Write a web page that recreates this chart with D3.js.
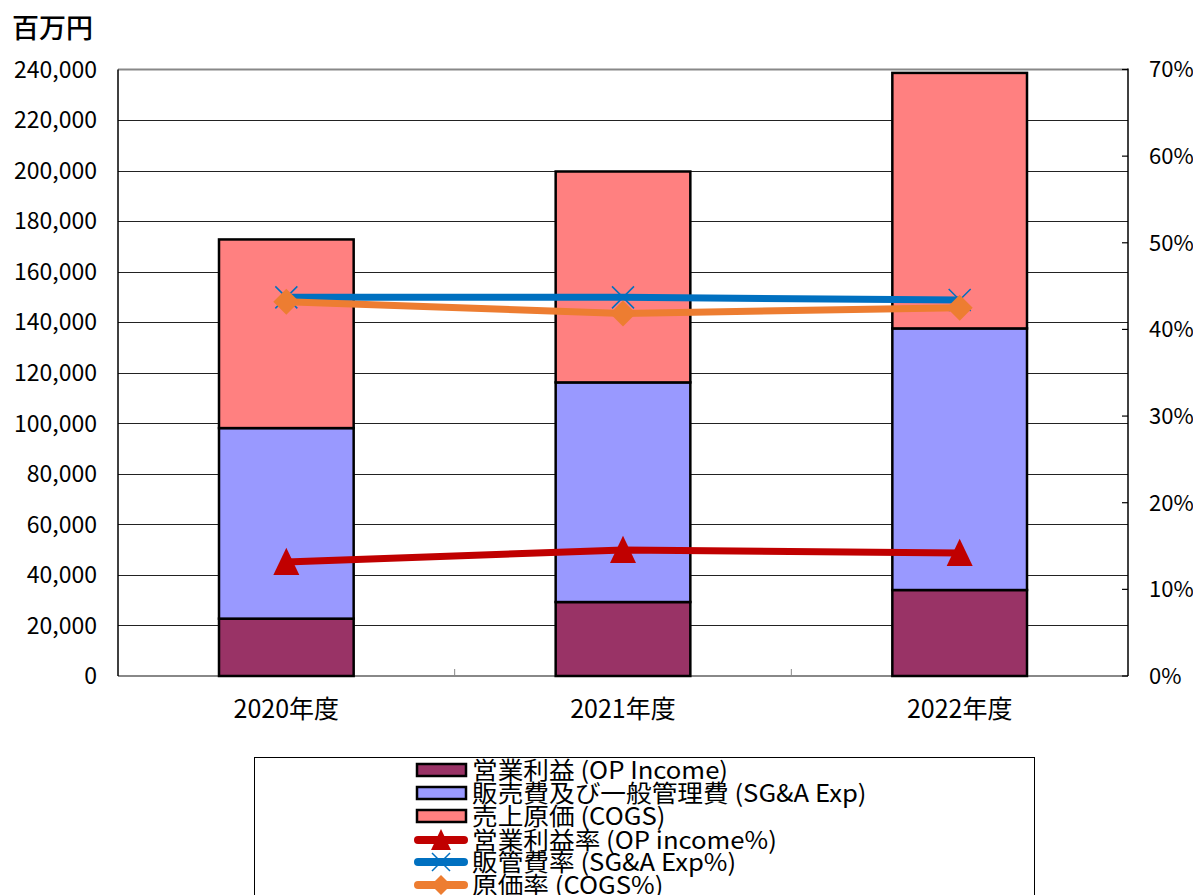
<!DOCTYPE html>
<html>
<head>
<meta charset="utf-8">
<script src="https://cdn.jsdelivr.net/npm/d3@7"></script>
<style>
  body { margin: 0; background: #fff; }
  svg { display: block; font-family: "Noto Sans CJK JP", "Noto Sans", sans-serif; }
</style>
</head>
<body>
<svg id="chart" width="1193" height="895"></svg>
<script>
const YEARS = ["2020年度", "2021年度", "2022年度"];
const OP_INCOME = [22700, 29270, 34020];
const SGA_EXP = [75400, 86910, 103520];
const COGS = [74650, 83460, 101110];
const OP_PCT = [13.15, 14.55, 14.2];
const SGA_PCT = [43.7, 43.7, 43.4];
const COGS_PCT = [43.2, 41.85, 42.5];
const Y_TICKS = [0, 20000, 40000, 60000, 80000, 100000, 120000, 140000, 160000, 180000, 200000, 220000, 240000];
const PCT_TICKS = [0, 10, 20, 30, 40, 50, 60, 70];

const LEFT = 118, RIGHT = 1128, TOP = 69.5, BOTTOM = 676;

const svg = d3.select("#chart");

const x = d3.scaleBand().domain(YEARS).range([LEFT, RIGHT]).paddingInner(0.6).paddingOuter(0.3);
const y = d3.scaleLinear().domain([0, 240000]).range([BOTTOM, TOP]);
const yPct = d3.scaleLinear().domain([0, 70]).range([BOTTOM, TOP]);

// gridlines
svg.append("g").selectAll("line")
    .data(Y_TICKS.filter(t => t > 0 && t < 240000))
    .join("line")
    .attr("x1", LEFT).attr("x2", RIGHT)
    .attr("y1", d => Math.round(y(d)) + 0.5).attr("y2", d => Math.round(y(d)) + 0.5)
    .attr("stroke", "#222").attr("stroke-width", 1);

// top border + x-axis line (grey)
svg.append("line").attr("x1", LEFT).attr("x2", RIGHT).attr("y1", TOP).attr("y2", TOP)
    .attr("stroke", "#888").attr("stroke-width", 2);
svg.append("line").attr("x1", LEFT).attr("x2", RIGHT).attr("y1", BOTTOM).attr("y2", BOTTOM)
    .attr("stroke", "#888").attr("stroke-width", 2);

// x ticks between categories
const step = x.step();
[1, 2].forEach(i => {
    let bx = LEFT + step * i;
    svg.append("line").attr("x1", bx).attr("x2", bx).attr("y1", BOTTOM).attr("y2", BOTTOM - 7)
        .attr("stroke", "#888").attr("stroke-width", 1);
});

// left axis
svg.append("line").attr("x1", LEFT).attr("x2", LEFT).attr("y1", TOP).attr("y2", BOTTOM)
    .attr("stroke", "#000").attr("stroke-width", 1.5);
svg.append("g").selectAll("text")
    .data(Y_TICKS)
    .join("text")
    .attr("x", 97)
    .attr("y", d => y(d))
    .attr("dy", "0.36em")
    .attr("text-anchor", "end")
    .attr("font-size", 23)
    .attr("fill", "#000")
    .text(d => d3.format(",")(d));

// right axis
svg.append("line").attr("x1", RIGHT).attr("x2", RIGHT).attr("y1", TOP - 1).attr("y2", BOTTOM)
    .attr("stroke", "#000").attr("stroke-width", 1.5);
svg.append("g").selectAll("line")
    .data(PCT_TICKS)
    .join("line")
    .attr("x1", RIGHT - 6).attr("x2", RIGHT)
    .attr("y1", d => yPct(d)).attr("y2", d => yPct(d))
    .attr("stroke", "#000").attr("stroke-width", 1.2);
svg.append("g").selectAll("text")
    .data(PCT_TICKS)
    .join("text")
    .attr("x", 1149)
    .attr("y", d => yPct(d))
    .attr("dy", "0.36em")
    .attr("font-size", 22)
    .attr("fill", "#000")
    .text(d => d + "%");

// unit label
svg.append("text").attr("x", 12).attr("y", 38).attr("font-size", 27).attr("font-weight", 500)
    .text("百万円");

// x labels
svg.append("g").selectAll("text")
    .data(YEARS)
    .join("text")
    .attr("x", d => x(d) + x.bandwidth() / 2)
    .attr("y", 718)
    .attr("text-anchor", "middle")
    .attr("font-size", 25)
    .text(d => d);

// stacked bars
const barSeries = [
    { name: "営業利益 (OP Income)", values: OP_INCOME, color: "#993366" },
    { name: "販売費及び一般管理費 (SG&A Exp)", values: SGA_EXP, color: "#9999FF" },
    { name: "売上原価 (COGS)", values: COGS, color: "#FF8080" }
];
const stackData = YEARS.map((yr, i) => ({ year: yr, op: OP_INCOME[i], sga: SGA_EXP[i], cogs: COGS[i] }));
const stacked = d3.stack().keys(["op", "sga", "cogs"])(stackData);

stacked.forEach((layer, li) => {
    svg.append("g").selectAll("rect")
        .data(layer)
        .join("rect")
        .attr("x", d => x(d.data.year))
        .attr("y", d => y(d[1]))
        .attr("width", x.bandwidth())
        .attr("height", d => y(d[0]) - y(d[1]))
        .attr("fill", barSeries[li].color)
        .attr("stroke", "#000")
        .attr("stroke-width", 2.5);
});

// percentage lines
const lineSeries = [
    { name: "営業利益率 (OP income%)", values: OP_PCT, color: "#C00000", marker: "triangle" },
    { name: "販管費率 (SG&A Exp%)", values: SGA_PCT, color: "#0070C0", marker: "x" },
    { name: "原価率 (COGS%)", values: COGS_PCT, color: "#ED7D31", marker: "diamond" }
];
const cx = i => x(YEARS[i]) + x.bandwidth() / 2;

function drawMarker(g, type, color, px, py, s) {
    if (type === "triangle") {
        g.append("path")
            .attr("d", `M${px},${py - s * 0.55}L${px + s * 0.5},${py + s * 0.5}L${px - s * 0.5},${py + s * 0.5}Z`)
            .attr("fill", color);
    } else if (type === "diamond") {
        g.append("path")
            .attr("d", `M${px},${py - s / 2}L${px + s / 2},${py}L${px},${py + s / 2}L${px - s / 2},${py}Z`)
            .attr("fill", color);
    } else {
        let h = s / 2;
        g.append("path")
            .attr("d", `M${px - h},${py - h}L${px + h},${py + h}M${px + h},${py - h}L${px - h},${py + h}`)
            .attr("stroke", color).attr("stroke-width", 1.5).attr("fill", "none");
    }
}

const line = d3.line().x((d, i) => cx(i)).y(d => yPct(d));
lineSeries.forEach(s => {
    let g = svg.append("g");
    g.append("path")
        .datum(s.values)
        .attr("d", line)
        .attr("fill", "none")
        .attr("stroke", s.color)
        .attr("stroke-width", 7);
    s.values.forEach((v, i) => drawMarker(g, s.marker, s.color, cx(i), yPct(v), s.marker === "x" ? 22 : 26));
});

// legend
svg.append("rect").attr("x", 254.5).attr("y", 757.5).attr("width", 780).attr("height", 160)
    .attr("fill", "#fff").attr("stroke", "#000").attr("stroke-width", 1);

const legendRows = [770, 793, 816, 840, 862, 885];
const legend = svg.append("g");

function legendText(txt, ry) {
    legend.append("text")
        .attr("transform", `translate(472,${ry}) scale(1.07,1)`)
        .attr("dy", "0.36em")
        .attr("font-size", 24)
        .text(txt);
}

barSeries.forEach((s, i) => {
    let ry = legendRows[i];
    legend.append("rect").attr("x", 417).attr("y", ry - 6).attr("width", 49).attr("height", 12)
        .attr("fill", s.color).attr("stroke", "#000").attr("stroke-width", 2.5);
    legendText(s.name, ry);
});
lineSeries.forEach((s, i) => {
    let ry = legendRows[i + 3];
    legend.append("line").attr("x1", 418).attr("x2", 464).attr("y1", ry).attr("y2", ry)
        .attr("stroke", s.color).attr("stroke-width", 8).attr("stroke-linecap", "round");
    drawMarker(legend, s.marker, s.color, 441, ry, s.marker === "x" ? 18 : 20);
    legendText(s.name, ry);
});
</script>
</body>
</html>
